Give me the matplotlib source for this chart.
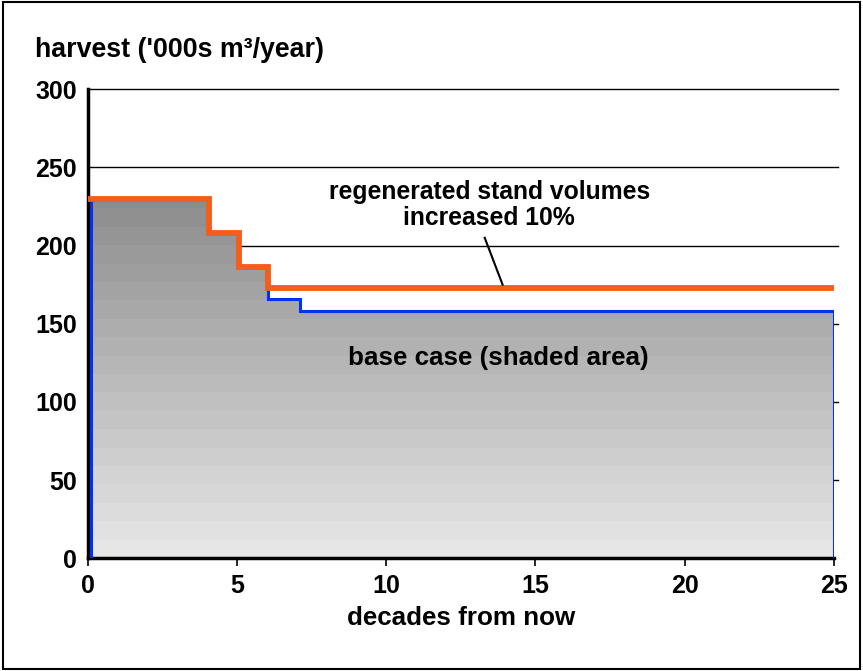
import numpy as np
import matplotlib
matplotlib.use("Agg")
import matplotlib.pyplot as plt
from matplotlib.patches import Polygon, Rectangle

plt.rcParams['font.family'] = ['Liberation Sans', 'DejaVu Sans']
plt.rcParams['font.weight'] = 'bold'

# step data: (decade where step starts, harvest value)
base_x = [0.1, 4.05, 5.05, 6.05, 7.1, 25.0]
base_y = [230, 208, 186, 166, 158]
regen_x = [0.0, 4.05, 5.05, 6.05, 25.0]
regen_y = [230, 208, 186, 173]

xticks = [0, 5, 10, 15, 20, 25]
yticks = [0, 50, 100, 150, 200, 250, 300]

fig = plt.figure(figsize=(8.63, 6.71), dpi=100)
ax = fig.add_axes([0.102, 0.168, 0.864, 0.699])
ax.set_xlim(0, 25)
ax.set_ylim(0, 300)

# gridlines
for yv in yticks[1:]:
    ax.plot([0, 25.15], [yv, yv], color='black', lw=1.0, zorder=1, clip_on=False)

def step_xy(xs, ys):
    px, py = [], []
    for i, yv in enumerate(ys):
        px += [xs[i], xs[i + 1]]
        py += [yv, yv]
    return px, py

bx, by = step_xy(base_x, base_y)
poly_pts = [(base_x[0], 0)] + list(zip(bx, by)) + [(base_x[-1], 0)]
poly = Polygon(poly_pts, closed=True, facecolor='none', edgecolor='none')
ax.add_patch(poly)
grad = np.linspace(0, 1, 20).reshape(-1, 1)
im = ax.imshow(grad, extent=[0, 25, 0, 235], origin='lower', aspect='auto',
               cmap=matplotlib.colors.LinearSegmentedColormap.from_list('g', ['#e6e6e6', '#8c8c8c']),
               interpolation='nearest', zorder=2)
im.set_clip_path(poly)

# blue outline
ax.plot([base_x[0]] + bx + [base_x[-1]], [0] + by + [0], color='#0033ee', lw=2.2,
        zorder=3, solid_joinstyle='miter')

# orange line
rx, ry = step_xy(regen_x, regen_y)
ax.plot(rx, ry, color='#f55d1a', lw=4.2, zorder=4, solid_joinstyle='miter')

# annotations
ax.text(13.45, 226, "regenerated stand volumes\nincreased 10%", ha='center', va='center',
        fontsize=17.8, fontweight='bold', linespacing=1.1)
ax.plot([13.3, 13.9], [205, 175], color='black', lw=1.5, zorder=5)
ax.text(13.75, 128, "base case (shaded area)", ha='center', va='center',
        fontsize=18.7, fontweight='bold')

# axes styling
for s in ['top', 'right']:
    ax.spines[s].set_visible(False)
ax.spines['left'].set_linewidth(2.5)
ax.spines['bottom'].set_linewidth(2.5)
ax.set_xticks(xticks)
ax.set_yticks(yticks)
ax.tick_params(axis='x', direction='out', length=6, width=1.2, labelsize=18, pad=5)
ax.tick_params(axis='y', length=0, labelsize=18, pad=8)
for lab in ax.get_xticklabels() + ax.get_yticklabels():
    lab.set_fontweight('bold')

fig.text(0.04, 0.925, "harvest ('000s m³/year)", fontsize=19.3, fontweight='bold', ha='left', va='center')
ax.set_xlabel("decades from now", fontsize=18.7, fontweight='bold', labelpad=6)

fig.patches.append(Rectangle((0.003, 0.003), 0.994, 0.994, transform=fig.transFigure,
                             fill=False, edgecolor='black', lw=1.5))

fig.savefig("out.png", dpi=100)
